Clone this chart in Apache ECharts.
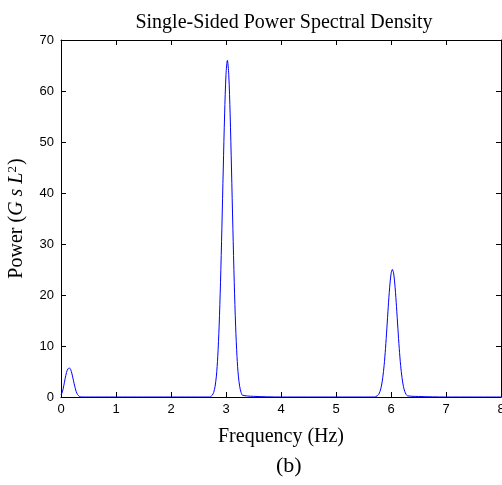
<!DOCTYPE html>
<html><head><meta charset="utf-8">
<script src="https://cdn.jsdelivr.net/npm/echarts@6/dist/echarts.min.js"></script>
<style>html,body{margin:0;padding:0;background:#fff}#c{width:502px;height:485px}</style>
</head><body><div id="c"></div>
<script>
const freq = [
  0, 0.025, 0.05, 0.075, 0.1, 0.125, 0.15, 0.175, 0.2, 0.225, 0.25, 0.275, 0.3, 0.325, 0.35, 0.4,
  0.5, 1, 1.5, 2, 2.5, 2.7,
  2.725, 2.75, 2.775, 2.8, 2.825, 2.85, 2.875, 2.9, 2.925, 2.95, 2.975, 3.0,
  3.025, 3.05, 3.075, 3.1, 3.125, 3.15, 3.175, 3.2, 3.225, 3.25, 3.275, 3.3,
  3.5, 4, 4.5, 5, 5.5, 5.7,
  5.725, 5.75, 5.775, 5.8, 5.825, 5.85, 5.875, 5.9, 5.925, 5.95, 5.975, 6.0,
  6.025, 6.05, 6.075, 6.1, 6.125, 6.15, 6.175, 6.2, 6.225, 6.25, 6.275, 6.3,
  6.5, 7, 7.5, 8
];
const power = [
  0.4, 1.0, 2.2, 3.6, 4.8, 5.5, 5.7, 5.4, 4.5, 3.3, 2.1, 1.1, 0.5, 0.2, 0.05, 0,
  0, 0, 0, 0, 0, 0,
  0.13, 0.35, 0.87, 2.0, 4.1, 7.9, 13.9, 22.4, 33.1, 44.7, 55.5, 63.2,
  66.0, 63.2, 55.5, 44.7, 33.1, 22.4, 13.9, 7.9, 4.1, 2.0, 0.87, 0.35,
  0.13, 0, 0, 0, 0, 0,
  0.1, 0.23, 0.5, 1.1, 2.1, 3.8, 6.2, 9.5, 13.5, 17.7, 21.4, 24.1,
  25.0, 24.1, 21.4, 17.7, 13.5, 9.5, 6.2, 3.8, 2.1, 1.1, 0.5, 0.23,
  0.1, 0, 0, 0
];
const xTicks = [0, 1, 2, 3, 4, 5, 6, 7, 8];
const yTicks = [0, 10, 20, 30, 40, 50, 60, 70];

const chart = echarts.init(document.getElementById('c'), null, {renderer: 'canvas'});
const serif = '"Liberation Serif",serif';
const sans = '"Liberation Sans",Arial,sans-serif';
const axisCommon = {
  axisLine: {show: true, onZero: false, lineStyle: {color: '#000', width: 1}},
  axisTick: {show: true, inside: true, length: 5, lineStyle: {color: '#000'}},
  splitLine: {show: false}
};
chart.setOption({
  animation: false,
  title: {
    text: 'Single-Sided Power Spectral Density',
    left: 279, top: 8, textAlign: 'center',
    textStyle: {fontFamily: serif, fontWeight: 'normal', fontSize: 20, color: '#000'}
  },
  grid: {left: 61, top: 40, right: 1, bottom: 88, containLabel: false, outerBoundsMode: 'none'},
  xAxis: [
    Object.assign({
      type: 'value', min: xTicks[0], max: xTicks[xTicks.length - 1], interval: 1, position: 'bottom',
      name: 'Frequency (Hz)', nameLocation: 'middle', nameGap: 30,
      nameTextStyle: {fontFamily: serif, fontSize: 20, color: '#000'},
      axisLabel: {fontFamily: sans, fontSize: 13, color: '#000', margin: 6}
    }, axisCommon),
    Object.assign({
      type: 'value', min: xTicks[0], max: xTicks[xTicks.length - 1], interval: 1, position: 'top',
      axisLabel: {show: false}
    }, axisCommon)
  ],
  yAxis: [
    Object.assign({
      type: 'value', min: yTicks[0], max: yTicks[yTicks.length - 1], interval: 10, position: 'left',
      name: '{n|Power (}{i|G s L}{s|2}{n|)}', nameLocation: 'middle', nameGap: 33, nameRotate: 90,
      nameTextStyle: {
        rich: {
          n: {fontFamily: serif, fontSize: 20, color: '#000'},
          i: {fontFamily: serif, fontSize: 20, fontStyle: 'italic', color: '#000'},
          s: {fontFamily: serif, fontSize: 13, color: '#000', verticalAlign: 'top', padding: [0, 1, 9, 0]}
        }
      },
      axisLabel: {fontFamily: sans, fontSize: 13, color: '#000', margin: 7}
    }, axisCommon),
    Object.assign({
      type: 'value', min: yTicks[0], max: yTicks[yTicks.length - 1], interval: 10, position: 'right',
      axisLabel: {show: false}
    }, axisCommon)
  ],
  graphic: [{
    type: 'text', left: 276, top: 455,
    style: {text: '(b)', font: '22px "Liberation Serif",serif', fill: '#000'}
  }],
  series: [{
    type: 'line',
    data: freq.map((f, i) => [f, power[i]]),
    showSymbol: false,
    smooth: 0.3,
    lineStyle: {color: '#0000ff', width: 1},
    itemStyle: {color: '#0000ff'}
  }]
});
</script>
</body></html>
